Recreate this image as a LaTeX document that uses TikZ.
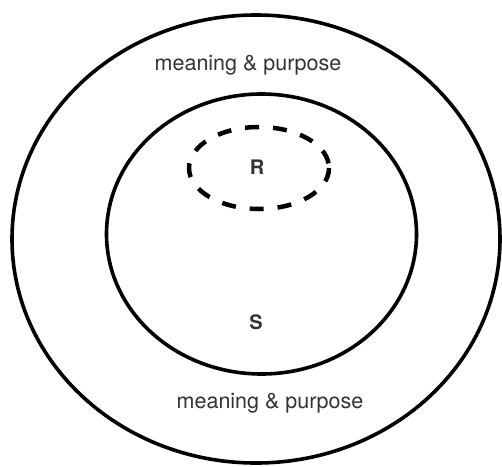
\documentclass[tikz,border=0pt]{standalone}
\usepackage{fontspec}
\setmainfont{TeX Gyre Heros}
\usepackage{tikz}

\begin{document}
\begin{tikzpicture}[x=1pt, y=-1pt, line join=round,
    ring/.style={line width=3.6pt},
    dashring/.style={line width=4.5pt, dash pattern=on 14pt off 14pt},
    lbl/.style={font=\fontsize{21.5}{25}\selectfont, text=black!80}]
    \useasboundingbox (0,0) rectangle (502,466);

    \coordinate (O) at (256, 239);   % centre of outer ring
    \coordinate (I) at (261.5, 234); % centre of inner ring
    \coordinate (D) at (259, 168);   % centre of dashed ring

    % Outer and inner rings
    \draw[ring] (O) ellipse [x radius=244, y radius=224];
    \draw[ring] (I) ellipse [x radius=155, y radius=140];

    % Dashed ring round R
    \draw[dashring] (D) ellipse [x radius=70, y radius=41];

    % Labels
    \node[lbl] (top)    at (248, 65)  {meaning \& purpose};
    \node[lbl] (bottom) at (270, 403) {meaning \& purpose};
    \node[lbl, font=\fontsize{20}{24}\selectfont\bfseries] (R) at (257, 167) {R};
    \node[lbl, font=\fontsize{20}{24}\selectfont\bfseries] (S) at (256, 322) {S};
\end{tikzpicture}
\end{document}
